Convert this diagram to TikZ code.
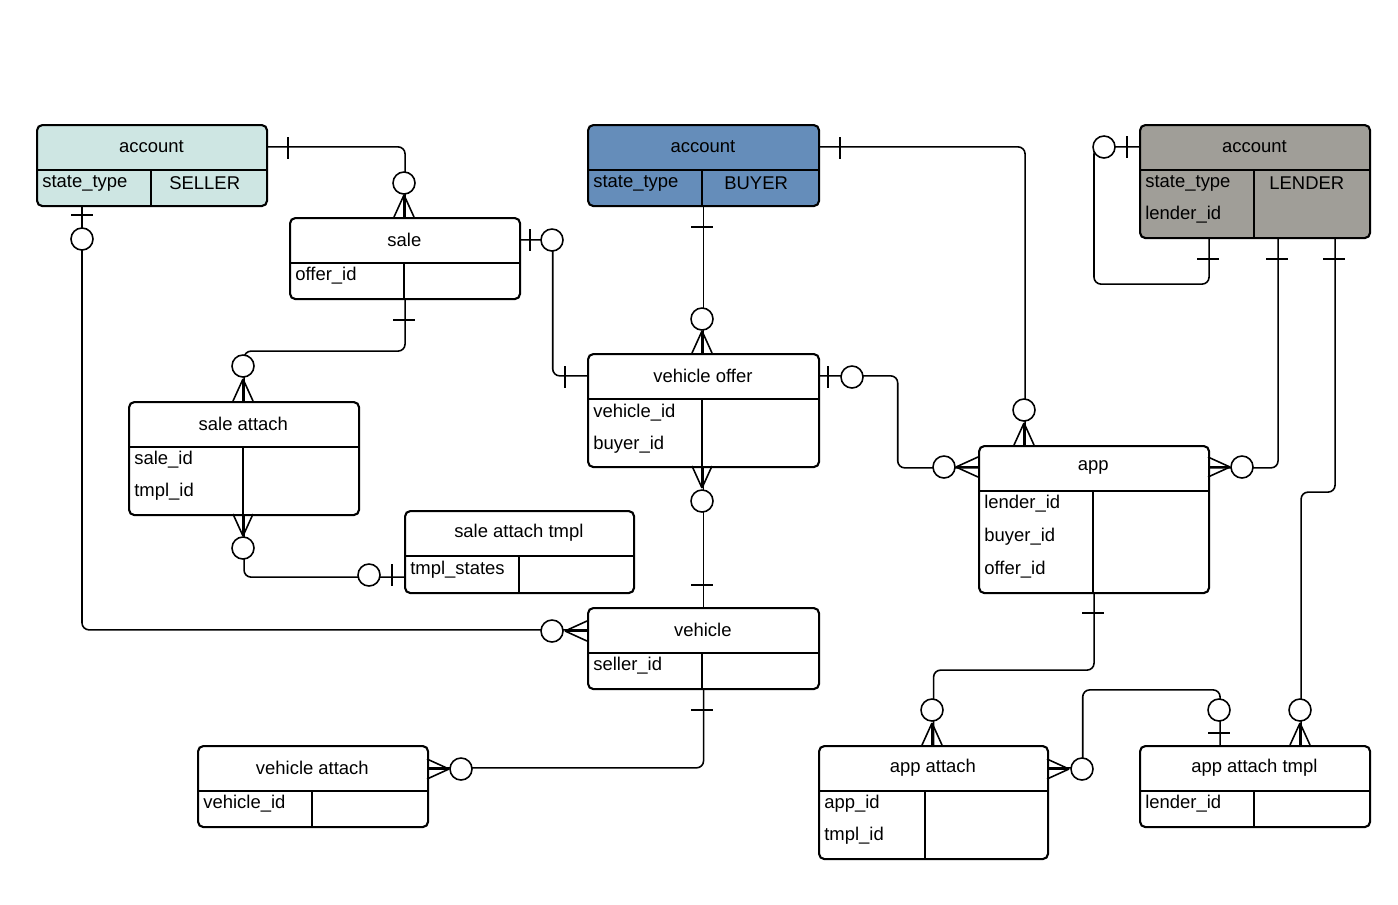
\documentclass[tikz,border=0pt]{standalone}
\usepackage{fontspec}
\setmainfont{Liberation Sans}
\usetikzlibrary{positioning, calc}
\definecolor{sellerfill}{RGB}{206,230,227}
\definecolor{buyerfill}{RGB}{101,141,186}
\definecolor{lenderfill}{RGB}{160,158,152}

\tikzset{
  tbl/.style={draw, line width=1.2pt, rounded corners=3pt, inner sep=0pt, anchor=north west},
  hdr/.style={inner sep=0pt, minimum height=0.9cm, anchor=north west, font=\fontsize{10.5}{12}\selectfont},
  row/.style={inner sep=0pt, anchor=west, font=\fontsize{10.5}{12}\selectfont},
  conn/.style={line width=0.9pt},
  crow/.pic={\draw[conn] (0,0)--(22,10) (0,0)--(22,0) (0,0)--(22,-10);},
  ring/.pic={\draw[conn,fill=white] (0,0) circle[radius=11];},
  bar/.pic={\draw[conn] (0,-11)--(0,11);}
}

% name, x, y, width, height, fill, title, divider x
\newcommand{\ertab}[8]{%
  \node[tbl, fill=#6, minimum width={#4*0.02cm}, minimum height={#5*0.02cm}] (#1) at (#2,#3) {};
  \node[hdr, minimum width={#4*0.02cm}] (#1h) at (#2,#3) {#7};
  \draw[line width=1.2pt] (#1h.south west) -- (#1h.south east);
  \draw[line width=1.2pt] (#8,#3+45) -- (#8,#3+#5);
}

\begin{document}
\begin{tikzpicture}[x=0.02cm, y=-0.02cm]
  \useasboundingbox (0,0) rectangle (1398,904);

  % tables
  \ertab{seller}{36}{124}{230}{81}{sellerfill}{account}{151}
  \ertab{sale}{289}{217}{230}{81}{white}{sale}{404}
  \ertab{buyer}{587}{124}{231}{81}{buyerfill}{account}{702}
  \ertab{lender}{1139}{124}{230}{113}{lenderfill}{account}{1254}
  \ertab{sattach}{128}{401}{230}{113}{white}{sale attach}{243}
  \ertab{voffer}{587}{353}{231}{113}{white}{vehicle offer}{702}
  \ertab{app}{978}{445}{230}{147}{white}{app}{1093}
  \ertab{satmpl}{404}{510}{229}{82}{white}{sale attach tmpl}{519}
  \ertab{vehicle}{587}{607}{231}{81}{white}{vehicle}{702}
  \ertab{vattach}{197}{745}{230}{81}{white}{vehicle attach}{312}
  \ertab{aattach}{818}{745}{229}{113}{white}{app attach}{925}
  \ertab{aatmpl}{1139}{745}{230}{81}{white}{app attach tmpl}{1254}

  % rows
  \node[row] (r1) at (42,183) {state\_type};
  \node[row] (r2) at (169,183) {SELLER};
  \node[row] (r3) at (295,276) {offer\_id};
  \node[row] (r4) at (593,183) {state\_type};
  \node[row] (r5) at (724,183) {BUYER};
  \node[row] (r6) at (1145,183) {state\_type};
  \node[row] (r7) at (1269,183) {LENDER};
  \node[row] (r8) at (1145,215) {lender\_id};
  \node[row] (r9) at (134,460) {sale\_id};
  \node[row] (r10) at (134,492) {tmpl\_id};
  \node[row] (r11) at (593,413) {vehicle\_id};
  \node[row] (r12) at (593,445) {buyer\_id};
  \node[row] (r13) at (984,504) {lender\_id};
  \node[row] (r14) at (984,537) {buyer\_id};
  \node[row] (r15) at (984,570) {offer\_id};
  \node[row] (r16) at (410,570) {tmpl\_states};
  \node[row] (r17) at (593,666) {seller\_id};
  \node[row] (r18) at (203,804) {vehicle\_id};
  \node[row] (r19) at (824,804) {app\_id};
  \node[row] (r20) at (824,836) {tmpl\_id};
  \node[row] (r21) at (1145,804) {lender\_id};

  % connectors
  \begin{scope}[conn, rounded corners=4pt]
    \draw (sellerh.east) -| (sale.north);
    \draw ($(seller.south west)+(46,0)$) |- (vehicleh.west);
    \draw (sale.south) -- ++(0,51) -| (sattach.north);
    \draw (saleh.east) -- ++(33,0) |- (vofferh.west);
    \draw (buyer.south) -- (voffer.north);
    \draw (buyerh.east) -| ($(app.north)+(-69,0)$);
    \draw (lenderh.west) -- ++(-45,0) |- ($(lender.south)+(-46,45)$) -- ($(lender.south)+(-46,0)$);
    \draw ($(lender.south)+(23,0)$) |- (apph.east);
    \draw ($(lender.south)+(80,0)$) -- ++(0,253) -| ($(aatmpl.north)+(46,0)$);
    \draw (vofferh.east) -- ++(79,0) |- (apph.west);
    \draw (voffer.south) -- (vehicle.north);
    \draw (sattach.south) |- ($(satmpl.south west)+(0,-17)$);
    \draw (vehicle.south) |- (vattachh.east);
    \draw (app.south) -- ++(0,76) -| (aattach.north);
    \draw (aattachh.east) -- ++(35,0) -- ++(0,-78) -| ($(aatmpl.north)+(-35,0)$);
  \end{scope}

  % ends
  \pic at (288,148) {bar};
  \pic at (404,183) {ring};
  \pic[rotate=270] at (404,195) {crow};
  \pic[rotate=90] at (82,215) {bar};
  \pic at (82,239) {ring};
  \pic at (552,631) {ring};
  \pic at (565,631) {crow};
  \pic[rotate=90] at (404,320) {bar};
  \pic at (243,366) {ring};
  \pic[rotate=270] at (243,379) {crow};
  \pic at (530,240) {bar};
  \pic at (552,240) {ring};
  \pic at (565,377) {bar};
  \pic[rotate=90] at (702,227) {bar};
  \pic at (702,319) {ring};
  \pic[rotate=270] at (702,331) {crow};
  \pic at (840,148) {bar};
  \pic at (1024,410) {ring};
  \pic[rotate=270] at (1024,423) {crow};
  \pic at (1104,147) {ring};
  \pic at (1127,147) {bar};
  \pic[rotate=90] at (1208,259) {bar};
  \pic[rotate=90] at (1277,259) {bar};
  \pic at (1242,467) {ring};
  \pic[rotate=180] at (1230,467) {crow};
  \pic[rotate=90] at (1334,259) {bar};
  \pic at (1300,710) {ring};
  \pic[rotate=270] at (1300,723) {crow};
  \pic at (828,377) {bar};
  \pic at (852,377) {ring};
  \pic at (944,467) {ring};
  \pic at (956,467) {crow};
  \pic[rotate=90] at (702,488) {crow};
  \pic at (702,501) {ring};
  \pic[rotate=90] at (702,585) {bar};
  \pic[rotate=90] at (243,536) {crow};
  \pic at (243,548) {ring};
  \pic at (369,575) {ring};
  \pic at (392,575) {bar};
  \pic[rotate=90] at (702,710) {bar};
  \pic at (461,769) {ring};
  \pic[rotate=180] at (449,769) {crow};
  \pic[rotate=90] at (1093,613) {bar};
  \pic at (932,710) {ring};
  \pic[rotate=270] at (932,723) {crow};
  \pic[rotate=180] at (1069,769) {crow};
  \pic at (1082,769) {ring};
  \pic at (1219,710) {ring};
  \pic[rotate=90] at (1219,733) {bar};
\end{tikzpicture}
\end{document}
